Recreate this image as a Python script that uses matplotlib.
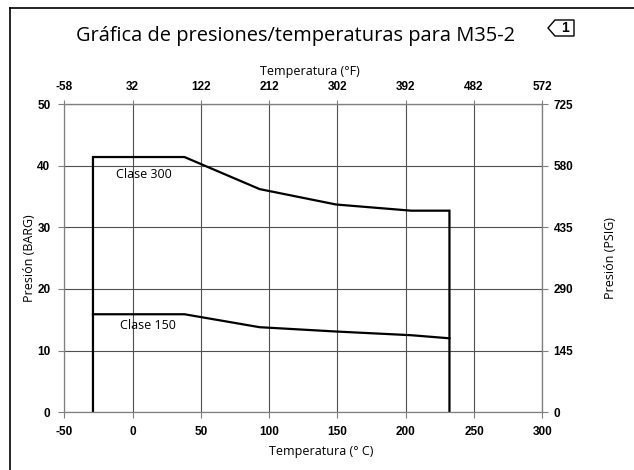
import matplotlib
matplotlib.use("Agg")
import matplotlib.pyplot as plt
from matplotlib.patches import Polygon
from matplotlib.lines import Line2D

plt.rcParams["axes.unicode_minus"] = False

# Data
temps_c = [-29, 38, 93, 149, 204, 232]
clase300_bar = [41.4, 41.4, 36.2, 33.7, 32.7, 32.7]
clase150_bar = [15.9, 15.9, 13.8, 13.1, 12.5, 12.0]

x_ticks_c = [-50, 0, 50, 100, 150, 200, 250, 300]
x_ticks_f = [-58, 32, 122, 212, 302, 392, 482, 572]
y_ticks_bar = [0, 10, 20, 30, 40, 50]
y_ticks_psig = [0, 145, 290, 435, 580, 725]

title = "Gráfica de presiones/temperaturas para M35-2"

tickfont = "Liberation Sans"
labfont = "Open Sans"
grid_c = "#505050"
W, H = 634.0, 470.0

fig = plt.figure(figsize=(6.34, 4.70), dpi=100)
ax = fig.add_axes([0.1014, 0.1228, 0.8554 - 0.1014, 0.7787 - 0.1228])

ax.set_xlim(-50, 300)
ax.set_ylim(0, 50)
ax.set_xticks(x_ticks_c)
ax.set_yticks(y_ticks_bar)
ax.grid(True, color=grid_c, linewidth=0.8)
ax.set_axisbelow(True)
for s in ax.spines.values():
    s.set_color("#808080")
    s.set_linewidth(0.9)
ax.tick_params(direction="out", length=4, width=0.8, color="#808080", labelsize=8.5, pad=6)
for lab in ax.get_xticklabels() + ax.get_yticklabels():
    lab.set_fontfamily(tickfont)
    lab.set_fontweight("bold")

# Curves
x300 = [temps_c[0]] + temps_c + [temps_c[-1]]
y300 = [0] + clase300_bar + [0]
ax.plot(x300, y300, color="black", linewidth=1.6, solid_joinstyle="miter")
ax.plot(temps_c, clase150_bar, color="black", linewidth=1.6)

ax.text(8.6, 38.5, "Clase 300", ha="center", va="center", fontsize=9, family=labfont)
ax.text(11.5, 14.1, "Clase 150", ha="center", va="center", fontsize=9, family=labfont)

ax.set_ylabel("Presión (BARG)", fontsize=9, family=labfont, labelpad=1)

# Axis titles placed as in the reference (slightly off-centre)
fig.text(321 / W, 1 - 452 / H, "Temperatura (° C)", ha="center", va="center", fontsize=9, family=labfont)
fig.text(310 / W, 1 - 72 / H, "Temperatura (°F)", ha="center", va="center", fontsize=9, family=labfont)

# Secondary axes
secx = ax.secondary_xaxis("top", functions=(lambda c: c * 9 / 5 + 32, lambda f: (f - 32) * 5 / 9))
secx.set_xticks(x_ticks_f)
secx.tick_params(direction="out", length=3, width=0.8, color="#808080", labelsize=8.5, pad=5)
for lab in secx.get_xticklabels():
    lab.set_fontfamily(tickfont)
    lab.set_fontweight("bold")
secx.spines["top"].set_color("#808080")

secy = ax.secondary_yaxis("right", functions=(lambda b: b * 14.5, lambda p: p / 14.5))
secy.set_yticks(y_ticks_psig)
secy.set_ylabel("Presión (PSIG)", fontsize=9, family=labfont, labelpad=22)
secy.tick_params(direction="out", length=4, width=0.8, color="#808080", labelsize=8.5, pad=4)
for lab in secy.get_yticklabels():
    lab.set_fontfamily(tickfont)
    lab.set_fontweight("bold")
secy.spines["right"].set_color("#808080")

# Title
fig.text(296 / W, 1 - 36 / H, title, ha="center", va="center", fontsize=14.4, family=labfont)

# Page frame (top and left)
fig.add_artist(Line2D([10 / W, 1], [1 - 8 / H, 1 - 8 / H], transform=fig.transFigure, color="black", linewidth=1.2))
fig.add_artist(Line2D([10 / W, 10 / W], [0, 1 - 8 / H], transform=fig.transFigure, color="black", linewidth=1.2))

# "<1" marker
pts = [(548, 28), (555, 20), (574, 20), (574, 36), (555, 36)]
poly = Polygon([(x / W, 1 - y / H) for x, y in pts], closed=True, fill=False,
               edgecolor="black", linewidth=1.0, transform=fig.transFigure)
fig.add_artist(poly)
fig.text(564.5 / W, 1 - 28 / H, "1", ha="center", va="center", fontsize=10,
         family=tickfont, fontweight="bold")

fig.savefig("out.png", dpi=100)
